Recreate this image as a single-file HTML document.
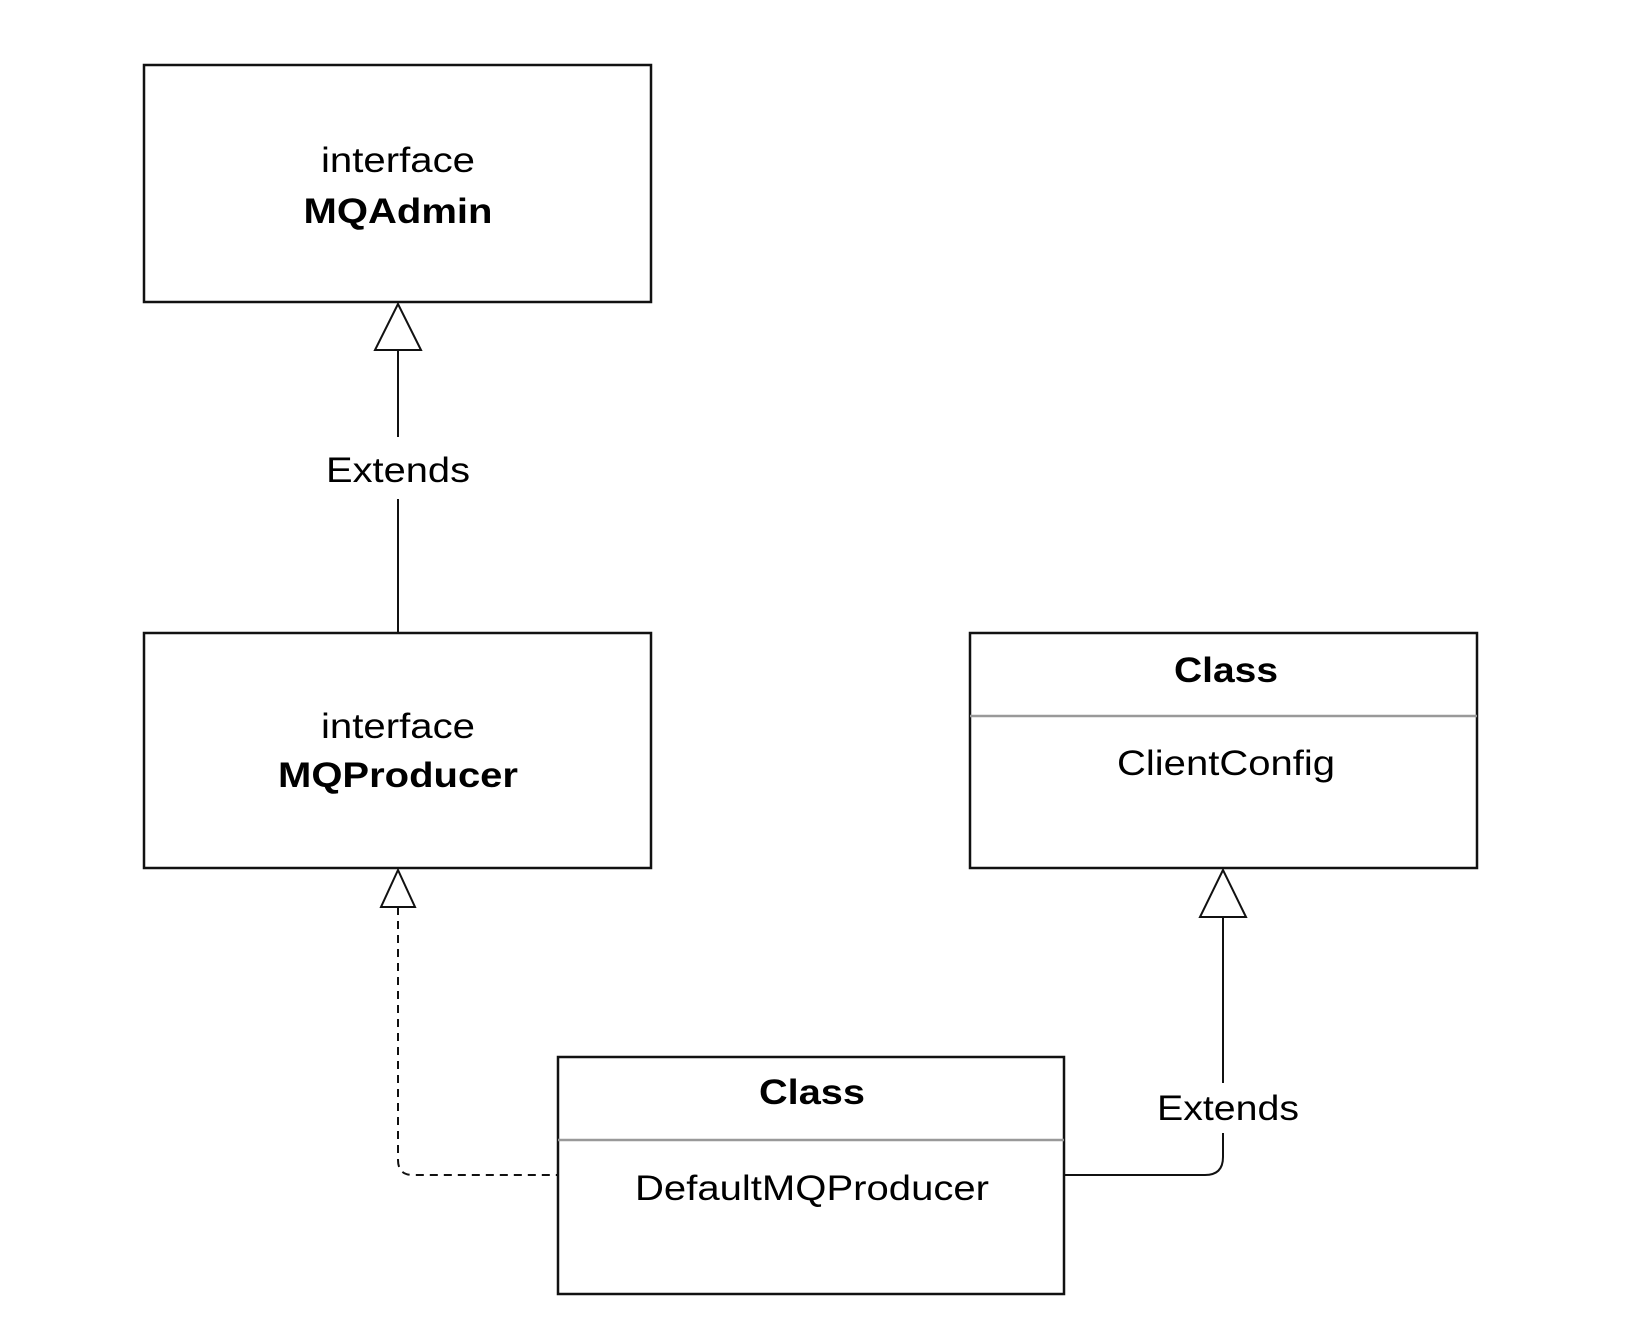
<!DOCTYPE html>
<html><head><meta charset="utf-8"><style>html,body{margin:0;padding:0;background:#fff}svg{display:block}</style></head>
<body>
<svg width="1632" height="1324" viewBox="0 0 1632 1324" xmlns="http://www.w3.org/2000/svg" font-family="Liberation Sans, Arial, sans-serif" font-size="35" fill="#000">
<rect width="1632" height="1324" fill="#fff"/>
<g fill="none" stroke="#111" stroke-width="2.5">
<rect x="144" y="65" width="507" height="237"/>
<rect x="144" y="633" width="507" height="235"/>
<rect x="970" y="633" width="507" height="235"/>
<rect x="558" y="1057" width="506" height="237"/>
</g>
<g stroke="#999" stroke-width="2.5"><line x1="970" y1="716" x2="1477" y2="716"/><line x1="558" y1="1140" x2="1064" y2="1140"/></g>
<g fill="none" stroke="#111" stroke-width="2">
<line x1="398" y1="350" x2="398" y2="437"/>
<line x1="398" y1="499" x2="398" y2="633"/>
<polygon points="398,304 375,350 421,350" fill="#fff"/>
<path d="M398 907 V1160 Q398 1175 413 1175 H558" stroke-dasharray="8,6"/>
<polygon points="398,870 381,907 415,907" fill="#fff"/>
<path d="M1064 1175 H1205 Q1223 1175 1223 1157 V1133"/>
<line x1="1223" y1="917" x2="1223" y2="1083"/>
<polygon points="1223,870 1200,917 1246,917" fill="#fff"/>
</g>
<g text-anchor="middle">
<text x="398" y="172" textLength="154" lengthAdjust="spacingAndGlyphs">interface</text>
<text x="398" y="223" font-weight="bold" textLength="189" lengthAdjust="spacingAndGlyphs">MQAdmin</text>
<text x="398" y="482" textLength="144" lengthAdjust="spacingAndGlyphs">Extends</text>
<text x="398" y="738" textLength="154" lengthAdjust="spacingAndGlyphs">interface</text>
<text x="398" y="787" font-weight="bold" textLength="240" lengthAdjust="spacingAndGlyphs">MQProducer</text>
<text x="1226" y="682" font-weight="bold" textLength="104" lengthAdjust="spacingAndGlyphs">Class</text>
<text x="1226" y="775" textLength="218" lengthAdjust="spacingAndGlyphs">ClientConfig</text>
<text x="812" y="1104" font-weight="bold" textLength="106" lengthAdjust="spacingAndGlyphs">Class</text>
<text x="812" y="1200" textLength="354" lengthAdjust="spacingAndGlyphs">DefaultMQProducer</text>
<text x="1228" y="1120" textLength="142" lengthAdjust="spacingAndGlyphs">Extends</text>
</g>
</svg>
</body></html>
